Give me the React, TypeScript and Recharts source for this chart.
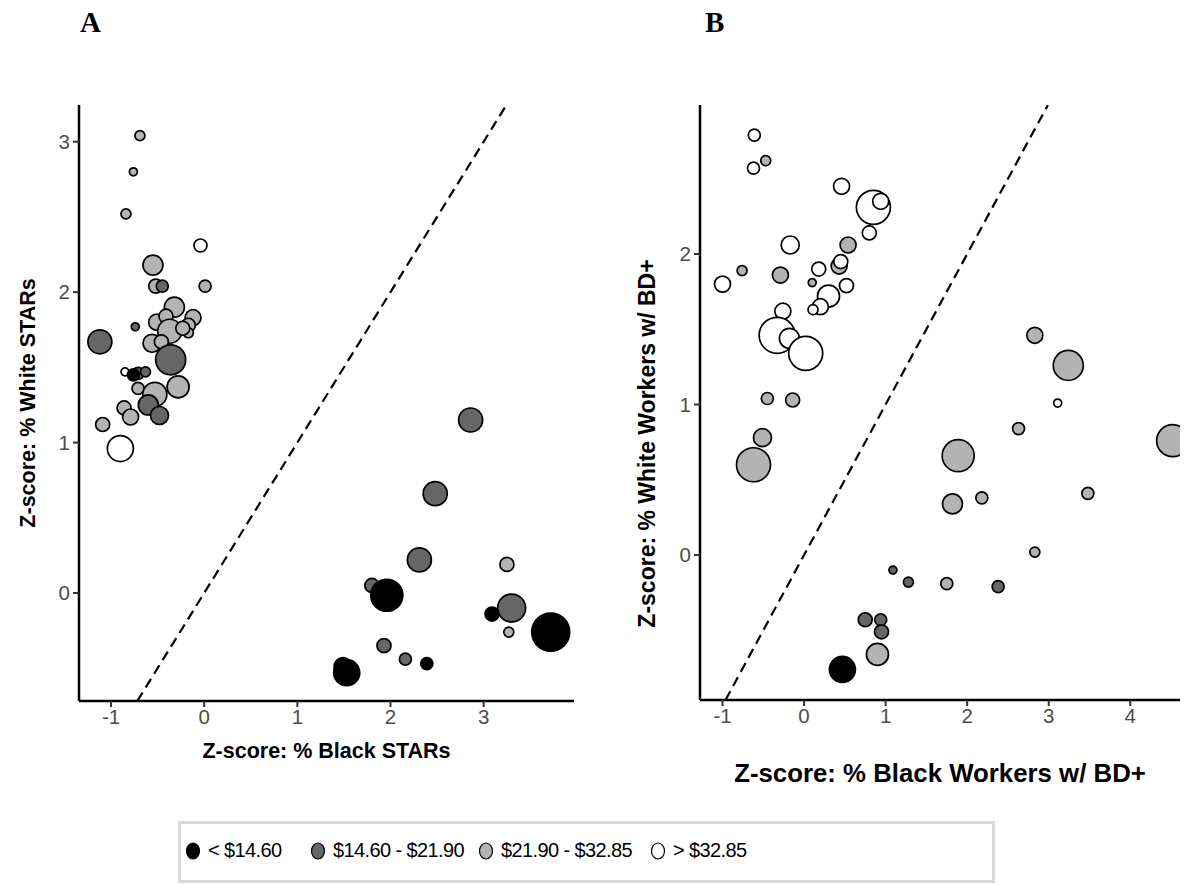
import { ScatterChart, Scatter, XAxis, YAxis, ZAxis, ReferenceLine, Label } from "recharts";

// [z black, z white, jobs] per metro area, split by median wage group
type Pt = [number, number, number];

// Panel A: STARs
const starsLow: Pt[] = [
  [-0.76, 1.45, 36], [1.96, -0.015, 256], [3.09, -0.14, 49], [3.72, -0.26, 361],
  [2.39, -0.47, 36], [1.53, -0.53, 169], [1.49, -0.49, 81],
];
const starsMid: Pt[] = [
  [-0.45, 2.04, 36], [-0.74, 1.77, 16], [-1.12, 1.67, 144], [-0.36, 1.55, 225],
  [-0.71, 1.46, 36], [-0.63, 1.47, 25], [-0.6, 1.25, 100], [-0.48, 1.18, 81],
  [2.86, 1.15, 144], [2.48, 0.66, 144], [2.31, 0.22, 144], [1.8, 0.05, 49],
  [3.3, -0.1, 196], [1.93, -0.35, 49], [2.16, -0.44, 36],
];
const starsHigh: Pt[] = [
  [-0.69, 3.04, 25], [-0.76, 2.8, 16], [-0.84, 2.52, 25], [-0.55, 2.18, 100],
  [-0.52, 2.04, 49], [0.01, 2.04, 36], [-0.32, 1.9, 100], [-0.51, 1.8, 64],
  [-0.41, 1.84, 49], [-0.12, 1.83, 64], [-0.17, 1.78, 49], [-0.17, 1.73, 25],
  [-0.37, 1.74, 144], [-0.23, 1.76, 49], [-0.56, 1.66, 81], [-0.46, 1.67, 49],
  [-0.71, 1.36, 36], [-0.28, 1.37, 121], [-0.53, 1.32, 144], [-0.86, 1.23, 49],
  [-0.79, 1.17, 64], [-1.09, 1.12, 49], [3.25, 0.19, 49], [3.27, -0.26, 25],
];
const starsTop: Pt[] = [
  [-0.04, 2.31, 42], [-0.85, 1.47, 16], [-0.9, 0.96, 169],
];

// Panel B: workers with a BD+
const bdLow: Pt[] = [[0.47, -0.76, 169]];
const bdMid: Pt[] = [
  [1.09, -0.1, 16], [1.28, -0.18, 25], [2.38, -0.21, 36], [0.75, -0.43, 49],
  [0.94, -0.43, 36], [0.95, -0.51, 49],
];
const bdHigh: Pt[] = [
  [-0.47, 2.62, 25], [0.54, 2.06, 64], [-0.29, 1.86, 64], [-0.76, 1.89, 25],
  [0.43, 1.92, 64], [0.1, 1.81, 16], [-0.45, 1.04, 36], [-0.14, 1.03, 49],
  [-0.51, 0.78, 81], [-0.62, 0.6, 289], [2.83, 1.46, 64], [3.24, 1.26, 225],
  [2.63, 0.84, 36], [1.89, 0.66, 256], [4.52, 0.76, 256], [1.82, 0.34, 100],
  [2.18, 0.38, 36], [3.48, 0.41, 36], [2.83, 0.02, 25], [1.75, -0.19, 36],
  [0.9, -0.66, 121],
];
const bdTop: Pt[] = [
  [-0.61, 2.79, 36], [-0.62, 2.57, 36], [0.46, 2.45, 64], [0.85, 2.31, 289],
  [0.94, 2.35, 64], [0.8, 2.14, 49], [-0.17, 2.06, 81], [-1.0, 1.8, 64],
  [0.18, 1.9, 49], [0.45, 1.95, 49], [0.52, 1.79, 49], [0.3, 1.72, 121],
  [-0.26, 1.62, 64], [0.2, 1.65, 64], [0.11, 1.63, 25], [-0.33, 1.46, 324],
  [-0.18, 1.44, 100], [0.02, 1.34, 289], [3.11, 1.01, 16],
];

const groupLabels = ["< $14.60", "$14.60 - $21.90", "$21.90 - $32.85", "> $32.85"];
const groupFills = ["#000000", "#666666", "#b3b3b3", "#ffffff"];

const ticksAx = [-1, 0, 1, 2, 3];
const ticksAy = [0, 1, 2, 3];
const ticksBx = [-1, 0, 1, 2, 3, 4];
const ticksBy = [0, 1, 2];

const FONT = "'Liberation Sans', Arial, sans-serif";
const toPts = (arr: Pt[]) => arr.map(([x, y, z]) => ({ x, y, z }));

const tickStyle = { fill: "#4d4d4d", fontSize: 20.5, fontFamily: FONT };

// axis titles drawn through Label content so size / shift can differ per panel
function AxisTitle(props: any) {
  const { viewBox, value, vertical, size, dxT = 0, dyT = 0 } = props;
  if (!viewBox) return null;
  const cx = vertical ? viewBox.x + dxT : viewBox.x + viewBox.width / 2 + dxT;
  const cy = vertical ? viewBox.y + viewBox.height / 2 + dyT : viewBox.y + dyT;
  return (
    <text
      x={cx}
      y={cy}
      transform={vertical ? `rotate(-90 ${cx} ${cy})` : undefined}
      textAnchor="middle"
      dominantBaseline="central"
      fill="#000"
      fontSize={size}
      fontWeight={700}
      fontFamily={FONT}
    >
      {value}
    </text>
  );
}

function Panel(props: {
  groups: Pt[][];
  xDomain: [number, number];
  yDomain: [number, number];
  xTicks: number[];
  yTicks: number[];
  xTitle: string;
  yTitle: string;
  width: number;
  yAxisWidth: number;
  xAxisHeight: number;
  right: number;
  xTitle2: { size: number; dx: number; dy: number };
  yTitle2: { size: number; dx: number; dy: number };
}) {
  const lo = Math.max(props.xDomain[0], props.yDomain[0]);
  const hi = Math.min(props.xDomain[1], props.yDomain[1]);
  return (
    <ScatterChart
      width={props.width}
      height={800}
      margin={{ top: 105, right: props.right, bottom: 0, left: 0 }}
    >
      <XAxis
        type="number"
        dataKey="x"
        domain={props.xDomain}
        allowDataOverflow
        ticks={props.xTicks}
        interval={0}
        height={props.xAxisHeight}
        tick={tickStyle}
        tickSize={6}
        tickMargin={2}
        tickLine={{ stroke: "#333", strokeWidth: 2 }}
        axisLine={{ stroke: "#000", strokeWidth: 2.5 }}
      >
        <Label
          value={props.xTitle}
          content={<AxisTitle size={props.xTitle2.size} dxT={props.xTitle2.dx} dyT={props.xTitle2.dy} />}
        />
      </XAxis>
      <YAxis
        type="number"
        dataKey="y"
        domain={props.yDomain}
        allowDataOverflow
        ticks={props.yTicks}
        interval={0}
        width={props.yAxisWidth}
        tick={tickStyle}
        tickSize={6}
        tickMargin={3}
        tickLine={{ stroke: "#333", strokeWidth: 2 }}
        axisLine={{ stroke: "#000", strokeWidth: 2.5 }}
      >
        <Label
          value={props.yTitle}
          content={<AxisTitle vertical size={props.yTitle2.size} dxT={props.yTitle2.dx} dyT={props.yTitle2.dy} />}
        />
      </YAxis>
      <ZAxis type="number" dataKey="z" domain={[0, 400]} range={[0, 400 * Math.PI]} />
      <ReferenceLine
        segment={[{ x: lo, y: lo }, { x: hi, y: hi }]}
        stroke="#000"
        strokeWidth={2.2}
        strokeDasharray="10 6"
        ifOverflow="hidden"
      />
      {[2, 3, 1, 0].map((g) => (
        <Scatter
          key={g}
          data={toPts(props.groups[g])}
          fill={groupFills[g]}
          stroke="#000"
          strokeWidth={1.7}
          isAnimationActive={false}
        />
      ))}
    </ScatterChart>
  );
}

const letterStyle = {
  position: "absolute" as const,
  top: 4,
  fontFamily: "'Liberation Serif', serif",
  fontWeight: 700,
  fontSize: 29,
  lineHeight: "36px",
};

export default function App() {
  return (
    <div style={{ position: "absolute", left: 0, top: 0, width: 1194, height: 885, background: "#fff", fontFamily: FONT }}>
      <div style={{ ...letterStyle, left: 80 }}>A</div>
      <div style={{ ...letterStyle, left: 705 }}>B</div>

      <div style={{ position: "absolute", left: 0, top: 0 }}>
        <Panel
          groups={[starsLow, starsMid, starsHigh, starsTop]}
          xDomain={[-1.344, 3.97]}
          yDomain={[-0.718, 3.244]}
          xTicks={ticksAx}
          yTicks={ticksAy}
          xTitle="Z-score: % Black STARs"
          yTitle="Z-score: % White STARs"
          width={600}
          yAxisWidth={79}
          xAxisHeight={99}
          right={26}
          xTitle2={{ size: 21.5, dx: 0, dy: 50 }}
          yTitle2={{ size: 21.5, dx: 28, dy: 0 }}
        />
      </div>
      <div style={{ position: "absolute", left: 600, top: 0 }}>
        <Panel
          groups={[bdLow, bdMid, bdHigh, bdTop]}
          xDomain={[-1.276, 4.61]}
          yDomain={[-0.963, 2.99]}
          xTicks={ticksBx}
          yTicks={ticksBy}
          xTitle="Z-score: % Black Workers w/ BD+"
          yTitle="Z-score: % White Workers w/ BD+"
          width={594}
          yAxisWidth={100}
          xAxisHeight={100}
          right={14}
          xTitle2={{ size: 25.8, dx: 0, dy: 73 }}
          yTitle2={{ size: 23, dx: 47, dy: 41 }}
        />
      </div>

      <div
        style={{
          position: "absolute",
          left: 178,
          top: 821,
          width: 811,
          height: 56,
          border: "3px solid #d9d9d9",
          background: "#fff",
        }}
      >
        {groupLabels.map((label, i) => (
          <div
            key={label}
            style={{
              position: "absolute",
              left: [3, 128, 296, 468][i],
              top: 15,
              display: "flex",
              alignItems: "center",
              fontSize: 20,
              letterSpacing: -0.6,
              color: "#000",
              whiteSpace: "nowrap",
            }}
          >
            <svg width={18} height={20} style={{ marginRight: 6 }}>
              <ellipse cx={9} cy={10} rx={6.5} ry={8} fill={groupFills[i]} stroke="#000" strokeWidth={1.2} />
            </svg>
            {label}
          </div>
        ))}
      </div>
    </div>
  );
}
